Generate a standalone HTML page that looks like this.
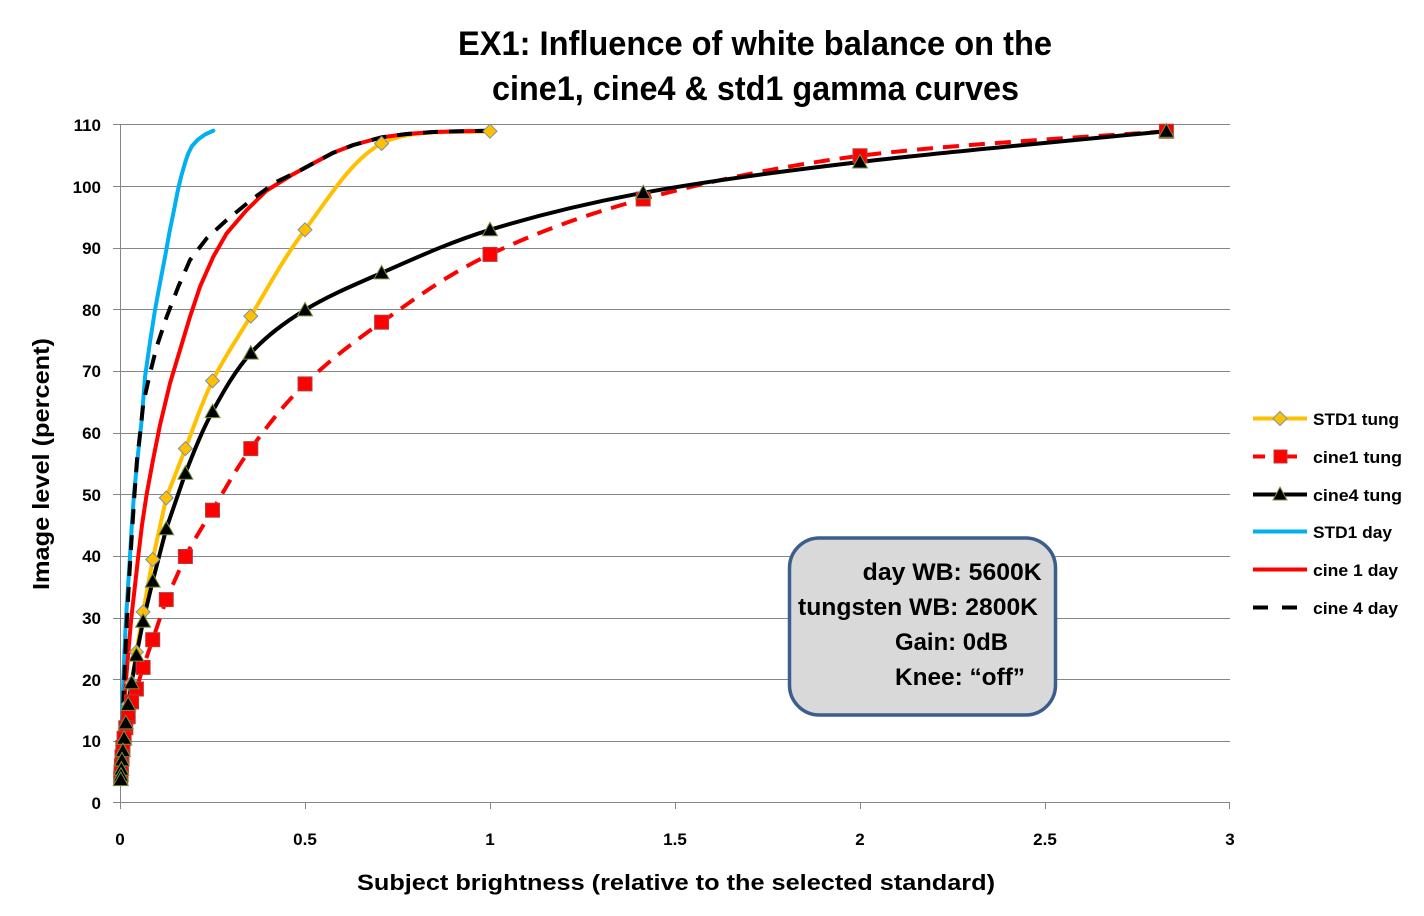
<!DOCTYPE html>
<html>
<head>
<meta charset="utf-8">
<style>
  html,body{margin:0;padding:0;background:#fff;}
  svg{display:block;}
  text{font-family:"Liberation Sans",Arial,sans-serif;font-weight:bold;fill:#000;}
</style>
</head>
<body>
<svg width="1424" height="916" viewBox="0 0 1424 916" xmlns="http://www.w3.org/2000/svg">
  <rect x="0" y="0" width="1424" height="916" fill="#fff"/>

  <!-- Title -->
  <text x="458" y="55" font-size="34" textLength="594" lengthAdjust="spacingAndGlyphs">EX1: Influence of white balance on the</text>
  <text x="492" y="100" font-size="34" textLength="527" lengthAdjust="spacingAndGlyphs">cine1, cine4 &amp; std1 gamma curves</text>

  <!-- Gridlines -->
  <g stroke="#868686" stroke-width="1" fill="none">
    <line x1="113" y1="124.5" x2="1230" y2="124.5"/>
    <line x1="113" y1="186.5" x2="1230" y2="186.5"/>
    <line x1="113" y1="248.5" x2="1230" y2="248.5"/>
    <line x1="113" y1="309.5" x2="1230" y2="309.5"/>
    <line x1="113" y1="371.5" x2="1230" y2="371.5"/>
    <line x1="113" y1="433.5" x2="1230" y2="433.5"/>
    <line x1="113" y1="494.5" x2="1230" y2="494.5"/>
    <line x1="113" y1="556.5" x2="1230" y2="556.5"/>
    <line x1="113" y1="618.5" x2="1230" y2="618.5"/>
    <line x1="113" y1="679.5" x2="1230" y2="679.5"/>
    <line x1="113" y1="741.5" x2="1230" y2="741.5"/>
    <line x1="113" y1="802.5" x2="1230" y2="802.5"/>
    <line x1="120.5" y1="124.5" x2="120.5" y2="809"/>
    <line x1="305.5" y1="802.5" x2="305.5" y2="809"/>
    <line x1="490.5" y1="802.5" x2="490.5" y2="809"/>
    <line x1="675.5" y1="802.5" x2="675.5" y2="809"/>
    <line x1="860.5" y1="802.5" x2="860.5" y2="809"/>
    <line x1="1045.5" y1="802.5" x2="1045.5" y2="809"/>
    <line x1="1229.5" y1="802.5" x2="1229.5" y2="809"/>
  </g>

  <!-- Y tick labels -->
  <g font-size="17" text-anchor="end">
    <text x="101" y="131">110</text>
    <text x="101" y="193">100</text>
    <text x="101" y="254">90</text>
    <text x="101" y="316">80</text>
    <text x="101" y="377">70</text>
    <text x="101" y="439">60</text>
    <text x="101" y="501">50</text>
    <text x="101" y="562">40</text>
    <text x="101" y="624">30</text>
    <text x="101" y="686">20</text>
    <text x="101" y="747">10</text>
    <text x="101" y="809">0</text>
  </g>
  <!-- X tick labels -->
  <g font-size="17" text-anchor="middle">
    <text x="120" y="845">0</text>
    <text x="305" y="845">0.5</text>
    <text x="490" y="845">1</text>
    <text x="675" y="845">1.5</text>
    <text x="860" y="845">2</text>
    <text x="1045" y="845">2.5</text>
    <text x="1230" y="845">3</text>
  </g>

  <!-- Axis titles -->
  <text x="357" y="890" font-size="22" textLength="638" lengthAdjust="spacingAndGlyphs">Subject brightness (relative to the selected standard)</text>
  <text transform="translate(49,590) rotate(-90)" x="0" y="0" font-size="23" textLength="252" lengthAdjust="spacingAndGlyphs">Image level (percent)</text>

  <!-- Series lines -->
  <g fill="none" stroke-width="4" stroke-linejoin="round">
    <!-- STD1 tung -->
    <path stroke="#ffc000" stroke-linecap="round" d="M490,131.2 C471.9,133.3 412.4,127.1 381.6,143.5 C350.8,159.9 326.8,201.0 305,229.8 C283.2,258.6 266.2,290.9 250.8,316.1 C235.4,341.3 223.4,358.7 212.5,380.8 C201.6,402.9 193.1,429.1 185.4,448.6 L166.25,497.9 L152.7,559.5 L143.1,611.9 L136.4,652 L131.6,682.8 L128.2,704.4 L125.8,722.9 L124.1,738.3 L122.9,750.6 L122,759.9 L121.4,769.1 L121,775.3"/>
    <!-- cine1 tung (dashed) -->
    <path stroke="#ff0000" stroke-dasharray="16 10" d="M1166.4,131.2 C1115.3,135.3 947.2,144.5 860,155.8 C772.8,167.1 704.9,182.6 643.2,199 C581.5,215.4 533.6,233.9 490,254.4 C446.4,274.9 412.4,300.6 381.6,322.2 C350.8,343.8 326.8,362.8 305,383.9 C283.2,405 266.2,427.6 250.8,448.6 C235.4,469.7 223.4,492.2 212.5,510.2 C201.6,528.2 193.1,541.6 185.4,556.5 L166.25,599.6 L152.7,639.7 L143.1,667.4 L136.4,689 L131.6,701.9 L128.2,716.7 L125.8,727.8 L124.1,738.3 L122.9,747.5 L122,756.8 L121.4,766 L121,772.2 L120.7,778.3"/>
    <!-- cine4 tung -->
    <path stroke="#000" stroke-linecap="round" d="M1166.4,131.2 C1115.3,136.3 947.2,151.7 860,162 C772.8,172.3 704.9,181.5 643.2,192.8 C581.5,204.1 533.6,216.5 490,229.8 C446.4,243.2 412.4,259.6 381.6,272.9 C350.8,286.3 326.8,296.5 305,309.9 C283.2,323.3 266.2,336.2 250.8,353.1 C235.4,370.1 223.4,391.6 212.5,411.6 C201.6,431.6 193.1,453.7 185.4,473.2 L166.25,528.7 L152.7,581.1 L143.1,621.2 L136.4,655.1 L131.6,682.8 L128.2,704.4 L125.8,722.9 L124.1,738.3 L122.9,750.6 L122,759.9 L121.4,769.1 L121,775.3 L120.7,779.6"/>
    <!-- STD1 day -->
    <path stroke="#00b0f0" stroke-linecap="round" d="M213.3,130.7 L205,134.5 L198,139.5 L192,146 L188,154 L185,163 L181,177 L177.5,192 L174,210 L169.5,232 L165,257 L160,283 L155,310 L150,342 L145,377 L141.7,420 L137.7,457 L134,494 L131.8,525 L130,556 L128,587 L126,618 L124.5,650 L123.2,685 L122.2,715 L121.4,745 L120.9,770 L120.6,782"/>
    <!-- cine 1 day -->
    <path stroke="#ff0000" stroke-linecap="round" d="M490,130.8 L460,131.2 L433.3,132 L406.7,134 L381.7,137.3 L353.3,145 L333.3,152.7 L313.3,163.3 L291.7,175 L266.7,190.5 L246.7,210 L226.7,233.3 L213.3,256.7 L200,286.7 L190,316.7 L180,350 L170,383.3 L160,425 L153,460 L146.7,494 L142,525 L138.3,556 L134.5,590 L131.3,618 L128.5,650 L126,680 L124,710 L122.5,740 L121.5,765 L120.9,782"/>
    <!-- cine 4 day (dashed) -->
    <path stroke="#000" stroke-dasharray="15 11" d="M490,130.8 L460,131.2 L433.3,132 L406.7,134 L381.7,137.3 L353.3,145 L333.3,152.7 L313.3,163.3 L300,170.5 L276.7,181.7 L253.3,198.3 L226.7,220 L206.7,238.3 L190,260 L178.3,286.7 L166.7,316.7 L156.7,346.7 L150,373.3 L143.3,403.3 L140.5,430 L137,460 L134.5,494 L132.5,525 L130.5,556 L128.7,587 L127,618 L125.5,650 L124.2,680 L123,710 L122.2,741 L121.7,765 L121.3,782"/>
  </g>

  <!-- Diamond markers (STD1 tung) -->
  <g fill="#ffc000" stroke="#7a8fb0" stroke-width="1">
    <polygon points="490,124.2 497,131.2 490,138.2 483,131.2"/>
    <polygon points="381.6,136.5 388.6,143.5 381.6,150.5 374.6,143.5"/>
    <polygon points="305,222.8 312,229.8 305,236.8 298,229.8"/>
    <polygon points="250.8,309.1 257.8,316.1 250.8,323.1 243.8,316.1"/>
    <polygon points="212.5,373.8 219.5,380.8 212.5,387.8 205.5,380.8"/>
    <polygon points="185.4,441.6 192.4,448.6 185.4,455.6 178.4,448.6"/>
    <polygon points="166.25,490.9 173.25,497.9 166.25,504.9 159.25,497.9"/>
    <polygon points="152.7,552.5 159.7,559.5 152.7,566.5 145.7,559.5"/>
    <polygon points="143.1,604.9 150.1,611.9 143.1,618.9 136.1,611.9"/>
    <polygon points="136.4,645 143.4,652 136.4,659 129.4,652"/>
    <polygon points="131.6,675.8 138.6,682.8 131.6,689.8 124.6,682.8"/>
    <polygon points="128.2,697.4 135.2,704.4 128.2,711.4 121.2,704.4"/>
    <polygon points="125.8,715.9 132.8,722.9 125.8,729.9 118.8,722.9"/>
    <polygon points="124.1,731.3 131.1,738.3 124.1,745.3 117.1,738.3"/>
    <polygon points="122.9,743.6 129.9,750.6 122.9,757.6 115.9,750.6"/>
    <polygon points="122,752.9 129,759.9 122,766.9 115,759.9"/>
    <polygon points="121.4,762.1 128.4,769.1 121.4,776.1 114.4,769.1"/>
    <polygon points="121,768.3 128,775.3 121,782.3 114,775.3"/>
  </g>

  <!-- Square markers (cine1 tung) -->
  <g fill="#ff0000" stroke="#b0403d" stroke-width="1">
    <rect x="1159.4" y="124.2" width="14" height="14"/>
    <rect x="853" y="148.8" width="14" height="14"/>
    <rect x="636.2" y="192" width="14" height="14"/>
    <rect x="483" y="247.4" width="14" height="14"/>
    <rect x="374.6" y="315.2" width="14" height="14"/>
    <rect x="298" y="376.9" width="14" height="14"/>
    <rect x="243.8" y="441.6" width="14" height="14"/>
    <rect x="205.5" y="503.2" width="14" height="14"/>
    <rect x="178.4" y="549.5" width="14" height="14"/>
    <rect x="159.25" y="592.6" width="14" height="14"/>
    <rect x="145.7" y="632.7" width="14" height="14"/>
    <rect x="136.1" y="660.4" width="14" height="14"/>
    <rect x="129.4" y="682" width="14" height="14"/>
    <rect x="124.6" y="694.9" width="14" height="14"/>
    <rect x="121.2" y="709.7" width="14" height="14"/>
    <rect x="118.8" y="720.8" width="14" height="14"/>
    <rect x="117.1" y="731.3" width="14" height="14"/>
    <rect x="115.9" y="740.5" width="14" height="14"/>
    <rect x="115" y="749.8" width="14" height="14"/>
    <rect x="114.4" y="759" width="14" height="14"/>
    <rect x="114" y="765.2" width="14" height="14"/>
    <rect x="113.7" y="771.3" width="14" height="14"/>
  </g>

  <!-- Triangle markers (cine4 tung) -->
  <g fill="#000" stroke="#77933c" stroke-width="1">
    <polygon points="1166.4,123.7 1173.9,137.2 1158.9,137.2"/>
    <polygon points="860,154.5 867.5,168 852.5,168"/>
    <polygon points="643.2,185.3 650.7,198.8 635.7,198.8"/>
    <polygon points="490,222.3 497.5,235.8 482.5,235.8"/>
    <polygon points="381.6,265.4 389.1,278.9 374.1,278.9"/>
    <polygon points="305,302.4 312.5,315.9 297.5,315.9"/>
    <polygon points="250.8,345.6 258.3,359.1 243.3,359.1"/>
    <polygon points="212.5,404.1 220,417.6 205,417.6"/>
    <polygon points="185.4,465.7 192.9,479.2 177.9,479.2"/>
    <polygon points="166.25,521.2 173.75,534.7 158.75,534.7"/>
    <polygon points="152.7,573.6 160.2,587.1 145.2,587.1"/>
    <polygon points="143.1,613.7 150.6,627.2 135.6,627.2"/>
    <polygon points="136.4,647.6 143.9,661.1 128.9,661.1"/>
    <polygon points="131.6,675.3 139.1,688.8 124.1,688.8"/>
    <polygon points="128.2,696.9 135.7,710.4 120.7,710.4"/>
    <polygon points="125.8,715.4 133.3,728.9 118.3,728.9"/>
    <polygon points="124.1,730.8 131.6,744.3 116.6,744.3"/>
    <polygon points="122.9,743.1 130.4,756.6 115.4,756.6"/>
    <polygon points="122,752.4 129.5,765.9 114.5,765.9"/>
    <polygon points="121.4,761.6 128.9,775.1 113.9,775.1"/>
    <polygon points="121,767.8 128.5,781.3 113.5,781.3"/>
    <polygon points="120.7,772.1 128.2,785.6 113.2,785.6"/>
  </g>

  <!-- Annotation box -->
  <rect x="789.5" y="538" width="266" height="177" rx="30" ry="30" fill="#d9d9d9" stroke="#3b5e8c" stroke-width="3.5"/>
  <g font-size="24">
    <text x="862.7" y="580" textLength="179" lengthAdjust="spacingAndGlyphs">day WB: 5600K</text>
    <text x="798" y="615" textLength="240" lengthAdjust="spacingAndGlyphs">tungsten WB: 2800K</text>
    <text x="895" y="650" textLength="113" lengthAdjust="spacingAndGlyphs">Gain: 0dB</text>
    <text x="895" y="685" textLength="130" lengthAdjust="spacingAndGlyphs">Knee: “off”</text>
  </g>

  <!-- Legend -->
  <g stroke-width="4" fill="none">
    <line x1="1253" y1="418.5" x2="1307" y2="418.5" stroke="#ffc000"/>
    <line x1="1253" y1="456.5" x2="1265" y2="456.5" stroke="#ff0000"/>
    <line x1="1276" y1="456.5" x2="1297" y2="456.5" stroke="#ff0000"/>
    <line x1="1253" y1="494.5" x2="1307" y2="494.5" stroke="#000"/>
    <line x1="1253" y1="531.5" x2="1307" y2="531.5" stroke="#00b0f0"/>
    <line x1="1253" y1="569.5" x2="1307" y2="569.5" stroke="#ff0000"/>
    <line x1="1253" y1="607.5" x2="1268" y2="607.5" stroke="#000"/>
    <line x1="1282" y1="607.5" x2="1297" y2="607.5" stroke="#000"/>
  </g>
  <polygon points="1280,411.5 1287,418.5 1280,425.5 1273,418.5" fill="#ffc000" stroke="#7a8fb0" stroke-width="1"/>
  <rect x="1274" y="450" width="13" height="13" fill="#ff0000" stroke="#b0403d" stroke-width="1"/>
  <polygon points="1280,487 1287,500 1273,500" fill="#000" stroke="#77933c" stroke-width="1"/>
  <g font-size="17">
    <text x="1313" y="425" textLength="86" lengthAdjust="spacingAndGlyphs">STD1 tung</text>
    <text x="1313" y="463" textLength="89" lengthAdjust="spacingAndGlyphs">cine1 tung</text>
    <text x="1313" y="501" textLength="89" lengthAdjust="spacingAndGlyphs">cine4 tung</text>
    <text x="1313" y="538" textLength="79" lengthAdjust="spacingAndGlyphs">STD1 day</text>
    <text x="1313" y="576" textLength="85" lengthAdjust="spacingAndGlyphs">cine 1 day</text>
    <text x="1313" y="614" textLength="85" lengthAdjust="spacingAndGlyphs">cine 4 day</text>
  </g>
</svg>
</body>
</html>
